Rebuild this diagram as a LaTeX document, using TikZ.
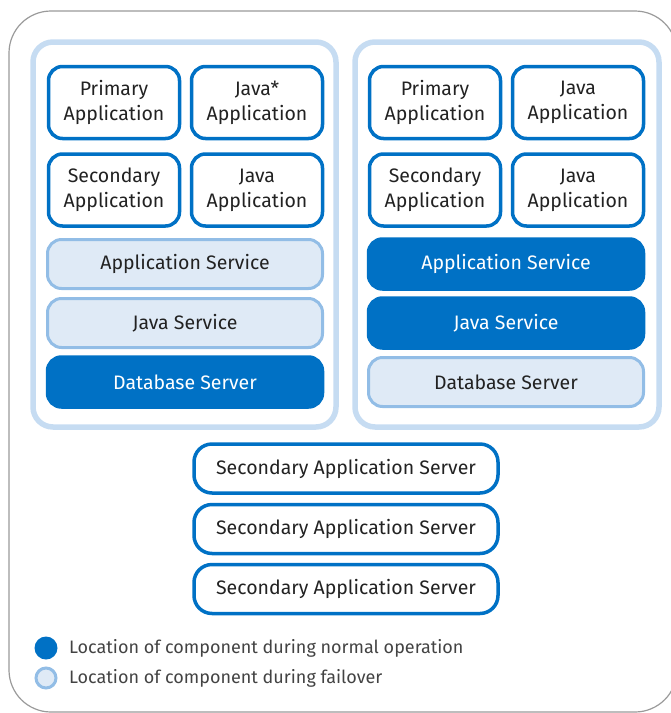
\documentclass[tikz,border=0pt]{standalone}
\usepackage{fontspec}
\setmainfont{Fira Sans}
\definecolor{dblue}{HTML}{0071C5}
\definecolor{lfill}{HTML}{DFEAF6}
\definecolor{lstroke}{HTML}{92BDE6}
\definecolor{cstroke}{HTML}{C6DCF2}
\definecolor{txt}{HTML}{222222}
\definecolor{frame}{HTML}{9A9A9A}
\tikzset{
  base/.style={rounded corners=14pt, align=center, inner sep=0pt,
    font=\fontsize{19.5}{25}\selectfont, text=txt},
  appbox/.style={base, draw=dblue, line width=3.5pt, fill=white,
    minimum width=131pt, minimum height=72pt},
  normbox/.style={base, draw=dblue, line width=3.5pt, fill=dblue, text=white,
    minimum width=275pt, minimum height=50pt},
  failbox/.style={base, draw=lstroke, line width=3pt, fill=lfill,
    minimum width=275pt, minimum height=49pt},
  srvbox/.style={base, draw=dblue, line width=3.5pt, fill=white,
    minimum width=304pt, minimum height=49pt, rounded corners=18pt},
  container/.style={draw=cstroke, line width=5.5pt, rounded corners=20pt},
  legtext/.style={anchor=west, inner sep=0pt, font=\fontsize{18}{20}\selectfont, text=txt!85}
}
\begin{document}
\begin{tikzpicture}[x=1pt,y=-1pt]
\useasboundingbox (0,0) rectangle (671,713);
\clip (0,0) rectangle (671,713);
\draw[frame, line width=1.2pt, rounded corners=42pt] (9,11) rectangle (677,712);
% containers
\draw[container] (33,42) rectangle (336,427);
\draw[container] (355,42) rectangle (659,427);
% left column
\node[appbox] (pa1) at (114,102.5) {Primary\\Application};
\node[appbox] (ja1) at (257,102.5) {Java*\\Application};
\node[appbox] (sa1) at (114,190) {Secondary\\Application};
\node[appbox] (jb1) at (257,190) {Java\\Application};
\node[failbox] (as1) at (185,264) {Application Service};
\node[failbox] (js1) at (185,323) {Java Service};
\node[normbox] (db1) at (185,382) {Database Server};
% right column
\node[appbox] (pa2) at (435,102.5) {Primary\\Application};
\node[appbox] (ja2) at (578,102.5) {Java\\Application};
\node[appbox] (sa2) at (435,190) {Secondary\\Application};
\node[appbox] (jb2) at (578,190) {Java\\Application};
\node[normbox] (as2) at (506,264) {Application Service};
\node[normbox] (js2) at (506,323) {Java Service};
\node[failbox] (db2) at (506,382) {Database Server};
% secondary servers
\node[srvbox] (s1) at (346,468.5) {Secondary Application Server};
\node[srvbox] (s2) at (346,529) {Secondary Application Server};
\node[srvbox] (s3) at (346,589) {Secondary Application Server};
% legend
\fill[dblue] (46,648) circle (11.5pt);
\draw[lstroke, fill=lfill, line width=3pt] (46,678) circle (10pt);
\node[legtext] (l1) at (69,648) {Location of component during normal operation};
\node[legtext] (l2) at (69,678) {Location of component during failover};
\end{tikzpicture}
\end{document}
